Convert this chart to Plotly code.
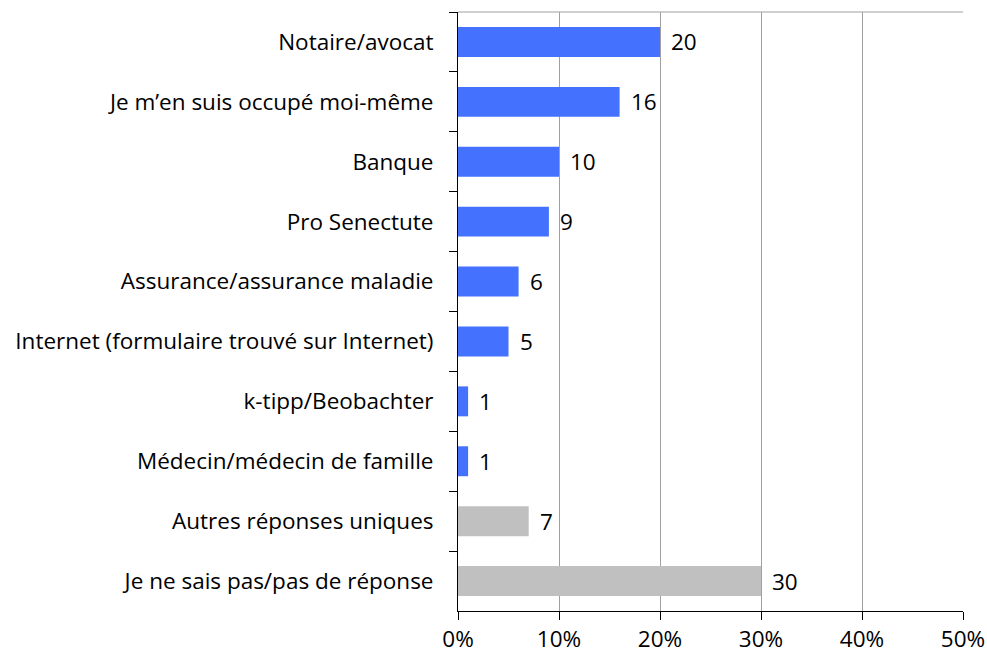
import plotly.graph_objects as go

categories = ["Notaire/avocat", "Je m’en suis occupé moi-même", "Banque", "Pro Senectute",
              "Assurance/assurance maladie", "Internet (formulaire trouvé sur Internet)",
              "k-tipp/Beobachter", "Médecin/médecin de famille", "Autres réponses uniques",
              "Je ne sais pas/pas de réponse"]
values = [20, 16, 10, 9, 6, 5, 1, 1, 7, 30]
bar_colors = ["#4472FF"] * 8 + ["#C0C0C0"] * 2
x_ticks = [0, 10, 20, 30, 40, 50]
x_labels = ["0%", "10%", "20%", "30%", "40%", "50%"]

FONT = "Open Sans"
FS = 22.5

fig = go.Figure(go.Bar(
    y=categories, x=values, orientation="h",
    marker=dict(color=bar_colors, line=dict(width=0)),
    width=0.5,
))

annotations = [dict(x=v, y=c, xref="x", yref="y", text=str(v), showarrow=False,
                    xanchor="left", xshift=9, font=dict(family=FONT, size=FS, color="black"))
               for c, v in zip(categories, values)]

fig.update_layout(
    width=987, height=656,
    margin=dict(l=458, r=24, t=12, b=45, autoexpand=False),
    plot_bgcolor="white", paper_bgcolor="white",
    showlegend=False,
    font=dict(family=FONT, size=FS, color="black"),
    xaxis=dict(range=[0, 50], tickvals=x_ticks, ticktext=x_labels,
               showgrid=True, gridcolor="#A0A0A0", gridwidth=1,
               showline=True, linecolor="black", linewidth=1,
               ticks="outside", ticklen=8, tickcolor="black",
               zeroline=False, fixedrange=True, automargin=False),
    yaxis=dict(autorange="reversed", showline=True, linecolor="black", linewidth=1,
               ticks="outside", ticklen=8, tickcolor="black", tickson="boundaries",
               showgrid=False, ticklabelstandoff=19, fixedrange=True, automargin=False),
    shapes=[dict(type="line", xref="paper", yref="paper", x0=0, x1=1, y0=1, y1=1,
                 line=dict(color="#A0A0A0", width=1))],
    annotations=annotations,
)

fig.write_html("out.html", config={"displayModeBar": False},
               post_script="document.body.style.margin='0';document.body.style.overflow='hidden';")
